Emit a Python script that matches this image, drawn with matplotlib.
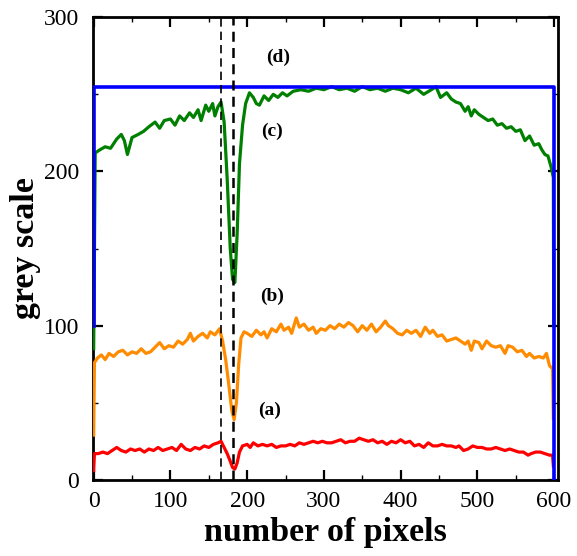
import matplotlib
matplotlib.use("Agg")
import matplotlib.pyplot as plt
from matplotlib.ticker import MultipleLocator

plt.rcParams['font.family'] = ['Liberation Serif', 'DejaVu Serif']

# (a) red
xa = [0, 1, 6, 12, 18, 24, 30, 36, 42, 48, 54, 60, 66, 72, 78, 84, 90, 96, 102, 108, 114, 120, 126, 132, 138, 144,
      150, 156, 162, 166, 170, 174, 178, 181, 184, 187, 190, 194, 200, 204, 208, 214, 220, 226, 232, 238, 244, 250,
      256, 262, 268, 274, 280, 286, 292, 298, 304, 310, 316, 322, 328, 334, 340, 346, 352, 358, 364, 370, 376, 382,
      388, 394, 400, 406, 412, 418, 424, 430, 436, 442, 448, 454, 460, 466, 472, 476, 482, 488, 494, 500, 506, 512,
      518, 524, 530, 536, 542, 548, 554, 560, 566, 570, 576, 582, 588, 594, 598, 599]
ya = [6, 17, 17, 18, 17, 19, 21, 19, 18, 20, 19, 20, 18, 20, 19, 21, 19, 20, 21, 19, 23, 20, 19, 21, 20, 22,
      21, 23, 24, 25, 21, 17, 12, 8, 7, 11, 18, 22, 23, 21, 24, 22, 23, 22, 23, 21, 22, 22,
      23, 22, 24, 23, 24, 25, 24, 25, 24, 24, 25, 26, 24, 25, 25, 27, 26, 25, 26, 24, 25, 23,
      25, 24, 26, 24, 25, 22, 23, 21, 24, 22, 22, 23, 22, 22, 21, 22, 19, 20, 22, 21, 21, 20,
      20, 21, 20, 19, 20, 19, 18, 18, 16, 17, 18, 18, 17, 16, 16, 9]

# (b) orange
xb = [0, 1, 5, 10, 15, 20, 26, 32, 38, 44, 50, 56, 62, 68, 74, 80, 86, 92, 98, 104, 110, 116, 122, 126, 130, 136,
      142, 148, 152, 158, 164, 168, 172, 176, 180, 183, 186, 189, 192, 196, 200, 206, 212, 218, 222, 226, 232, 238,
      244, 248, 254, 258, 264, 268, 274, 280, 286, 290, 296, 302, 308, 314, 320, 326, 332, 338, 344, 350, 356, 362,
      368, 374, 380, 384, 390, 396, 402, 408, 414, 420, 426, 432, 438, 442, 448, 454, 460, 466, 472, 478, 484, 488,
      492, 496, 502, 506, 512, 518, 524, 530, 536, 540, 546, 552, 558, 564, 568, 574, 580, 586, 590, 594, 598, 599]
yb = [29, 76, 79, 81, 78, 82, 80, 83, 84, 81, 83, 82, 85, 82, 83, 86, 89, 85, 87, 86, 90, 88, 91, 95, 90, 93,
      95, 92, 96, 94, 98, 90, 78, 62, 45, 39, 50, 75, 92, 96, 95, 93, 97, 94, 96, 92, 98, 96,
      101, 97, 99, 95, 105, 99, 101, 97, 99, 95, 98, 97, 100, 98, 101, 99, 102, 100, 96, 100, 97, 101,
      96, 99, 103, 100, 98, 95, 94, 97, 95, 97, 93, 99, 95, 97, 93, 94, 90, 91, 92, 90, 88, 90,
      84, 90, 89, 85, 90, 87, 86, 87, 82, 87, 86, 83, 84, 80, 82, 79, 80, 79, 82, 74, 72, 40]

# (c) green
xc = [0, 2, 8, 15, 22, 30, 36, 40, 44, 50, 58, 65, 72, 80, 86, 92, 100, 106, 112, 118, 125, 130, 136, 140, 146,
      150, 155, 158, 162, 166, 170, 174, 178, 181, 184, 187, 190, 194, 198, 203, 208, 212, 216, 222, 228, 234, 240,
      246, 252, 260, 270, 280, 290, 300, 310, 320, 330, 340, 350, 360, 370, 380, 390, 400, 410, 420, 430, 440, 446,
      452, 460, 466, 472, 478, 484, 488, 492, 496, 502, 508, 514, 520, 526, 532, 538, 544, 550, 556, 562, 568, 574,
      580, 584, 588, 592, 596, 599, 599.5]
yc = [85, 212, 214, 216, 215, 221, 224, 220, 211, 222, 224, 226, 229, 232, 228, 233, 234, 230, 236, 233, 238, 235, 240, 233, 243,
      239, 244, 236, 242, 245, 232, 195, 150, 130, 128, 160, 205, 230, 244, 251, 248, 244, 243, 249, 246, 250, 248,
      251, 249, 252, 253, 252, 254, 253, 255, 253, 254, 252, 255, 253, 254, 252, 254, 253, 251, 254, 250, 253, 255,
      248, 251, 247, 245, 244, 239, 242, 236, 240, 237, 235, 233, 234, 230, 231, 228, 229, 226, 227, 220, 223, 217,
      218, 214, 211, 210, 203, 196, 100]

# (d) blue
xd = [0, 0, 600, 600]
yd = [100, 255, 255, 0]

# dashed markers
dash_x = [165.5, 182]

labels = ['(a)', '(b)', '(c)', '(d)']
label_pos = [(229, 45), (232, 119), (232, 226), (240, 274)]

xticks = [0, 100, 200, 300, 400, 500, 600]
yticks = [0, 100, 200, 300]

fig = plt.figure(figsize=(5.77, 5.56), dpi=100)
ax = fig.add_axes([0.161, 0.137, 0.806, 0.832])

ax.plot(xa, ya, color='#ff0000', lw=2.3, zorder=3)
ax.plot(xb, yb, color='#ff8c00', lw=2.3, zorder=3)
ax.plot(xc, yc, color='#008000', lw=2.3, zorder=3)
ax.plot(xd, yd, color='#0000ff', lw=2.6, zorder=3.2)

ax.axvline(dash_x[0], color='black', lw=1.2, ls=(0, (5, 3)), zorder=4)
ax.axvline(dash_x[1], color='black', lw=1.8, ls=(0, (4, 2.5)), zorder=4)

for t, (x, y) in zip(labels, label_pos):
    ax.text(x, y, t, fontsize=14, fontweight='bold', ha='center', va='center')

ax.set_xlim(-1, 605)
ax.set_ylim(0, 300)
ax.set_xticks(xticks)
ax.set_yticks(yticks)
ax.xaxis.set_minor_locator(MultipleLocator(50))
ax.yaxis.set_minor_locator(MultipleLocator(50))
ax.tick_params(which='both', direction='in', top=True, right=True, width=1.6, labelsize=17)
ax.tick_params(which='major', length=7)
ax.tick_params(axis='y', which='major', pad=10)
ax.tick_params(axis='x', which='major', pad=8)
ax.tick_params(which='minor', length=3.5, width=1.0)
for s in ax.spines.values():
    s.set_linewidth(2.0)

ax.set_xlabel('number of pixels', fontsize=24.5, fontweight='bold', labelpad=4)
ax.set_ylabel('grey scale', fontsize=24.5, fontweight='bold', labelpad=2)

fig.savefig('out.png', dpi=100)
